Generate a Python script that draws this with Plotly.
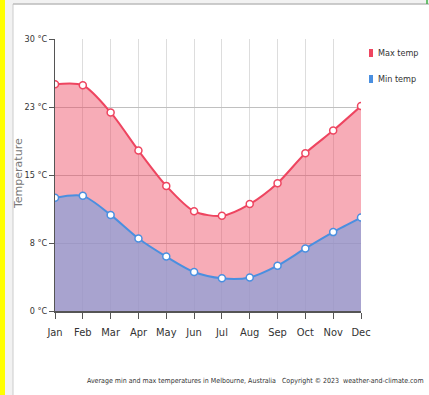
import plotly.graph_objects as go

months = ["Jan", "Feb", "Mar", "Apr", "May", "Jun", "Jul", "Aug", "Sep", "Oct", "Nov", "Dec"]
max_temp = [25.0, 24.9, 21.9, 17.7, 13.8, 11.0, 10.5, 11.8, 14.1, 17.4, 19.9, 22.6]
min_temp = [12.5, 12.7, 10.6, 8.0, 6.0, 4.3, 3.6, 3.7, 5.0, 6.9, 8.7, 10.3]
y_tickvals = [0, 7.5, 15, 22.5, 30]
y_ticktext = ["0 °C", "8 °C", "15 °C", "23 °C", "30 °C"]
series_names = ["Max temp", "Min temp"]
y_title = "Temperature"
caption = "Average min and max temperatures in Melbourne, Australia   Copyright © 2023  weather-and-climate.com"

NARROW = "DejaVu Sans Condensed, Liberation Sans Narrow, sans-serif"
MAXC = "#ee4560"
MINC = "#4a8fe0"

fig = go.Figure()
fig.add_trace(go.Scatter(
    x=months, y=max_temp, mode="lines+markers", name=series_names[0],
    line=dict(color=MAXC, width=2, shape="spline", smoothing=0.8),
    fill="tozeroy", fillcolor="rgba(238,70,95,0.45)",
    marker=dict(size=7, color="white", line=dict(color=MAXC, width=1.5)),
    showlegend=False,
))
fig.add_trace(go.Scatter(
    x=months, y=min_temp, mode="lines+markers", name=series_names[1],
    line=dict(color=MINC, width=2, shape="spline", smoothing=0.8),
    fill="tozeroy", fillcolor="rgba(137,159,216,0.72)",
    marker=dict(size=7, color="white", line=dict(color=MINC, width=1.5)),
    showlegend=False,
))

L, R, T, B = 55, 68, 39, 84
W, H = 429, 395
pw, ph = W - L - R, H - T - B

def px(x):
    return (x - L) / pw

def py(y):
    return (H - B - y) / ph

shapes = [
    dict(type="rect", xref="paper", yref="paper", x0=px(0), x1=px(5), y0=py(H), y1=py(0),
         fillcolor="#ffff00", line=dict(width=0), layer="below"),
    dict(type="rect", xref="paper", yref="paper", x0=px(5), x1=px(13), y0=py(H), y1=py(0),
         fillcolor="#f2f2f2", line=dict(width=0), layer="below"),
    dict(type="rect", xref="paper", yref="paper", x0=px(13), x1=px(W), y0=py(4), y1=py(0),
         fillcolor="#f2f2f2", line=dict(width=0), layer="below"),
    dict(type="line", xref="paper", yref="paper", x0=px(13), x1=px(13), y0=py(H), y1=py(4),
         line=dict(color="#cccccc", width=1), layer="below"),
    dict(type="line", xref="paper", yref="paper", x0=px(13), x1=px(W), y0=py(4), y1=py(4),
         line=dict(color="#bbbbbb", width=1.5), layer="below"),
    dict(type="line", xref="paper", yref="paper", x0=px(427), x1=px(427), y0=py(4), y1=py(0),
         line=dict(color="#3cb043", width=1.5), layer="below"),
    # legend swatches
    dict(type="rect", xref="paper", yref="paper", x0=px(369), x1=px(373), y0=py(57), y1=py(49),
         fillcolor=MAXC, line=dict(width=0)),
    dict(type="rect", xref="paper", yref="paper", x0=px(369), x1=px(373), y0=py(83), y1=py(75),
         fillcolor=MINC, line=dict(width=0)),
]

annotations = [
    dict(text=caption, xref="paper", yref="paper", x=px(426), y=py(381),
         xanchor="right", yanchor="middle", showarrow=False,
         font=dict(family=NARROW, size=7, color="#333")),
    dict(text=series_names[0], xref="paper", yref="paper", x=px(376), y=py(53),
         xanchor="left", yanchor="middle", showarrow=False,
         font=dict(family=NARROW, size=9, color="#333")),
    dict(text=series_names[1], xref="paper", yref="paper", x=px(376), y=py(79),
         xanchor="left", yanchor="middle", showarrow=False,
         font=dict(family=NARROW, size=9, color="#333")),
    dict(text=y_title, xref="paper", yref="paper", x=px(18), y=py(174),
         xanchor="center", yanchor="middle", textangle=-90, showarrow=False,
         font=dict(family="DejaVu Sans, Verdana, sans-serif", size=11, color="#777")),
]

fig.update_layout(
    width=W, height=H,
    margin=dict(l=L, r=R, t=T, b=B, autoexpand=False),
    paper_bgcolor="white", plot_bgcolor="white",
    font=dict(family=NARROW, size=10, color="#333"),
    shapes=shapes, annotations=annotations,
    showlegend=False,
)
fig.update_xaxes(
    type="category", range=[0, 11], showgrid=True, gridcolor="#dddddd", gridwidth=1,
    showline=True, linecolor="#555", linewidth=2, ticks="outside", ticklen=6,
    tickcolor="#555", tickfont=dict(family=NARROW, size=11, color="#333"), zeroline=False,
    automargin=False, ticklabelstandoff=4,
)
fig.update_yaxes(
    range=[0, 30], tickvals=y_tickvals, ticktext=y_ticktext, showgrid=True,
    gridcolor="#c0c0c0", gridwidth=1.2, showline=True, linecolor="#555", linewidth=1,
    ticks="outside", ticklen=5, tickcolor="#555", zeroline=False,
    tickfont=dict(family=NARROW, size=9, color="#333"), automargin=False,
)

fig.write_html(
    "out.html",
    config={"displayModeBar": False},
    post_script="document.body.style.margin='0';document.body.style.overflow='hidden';",
)
